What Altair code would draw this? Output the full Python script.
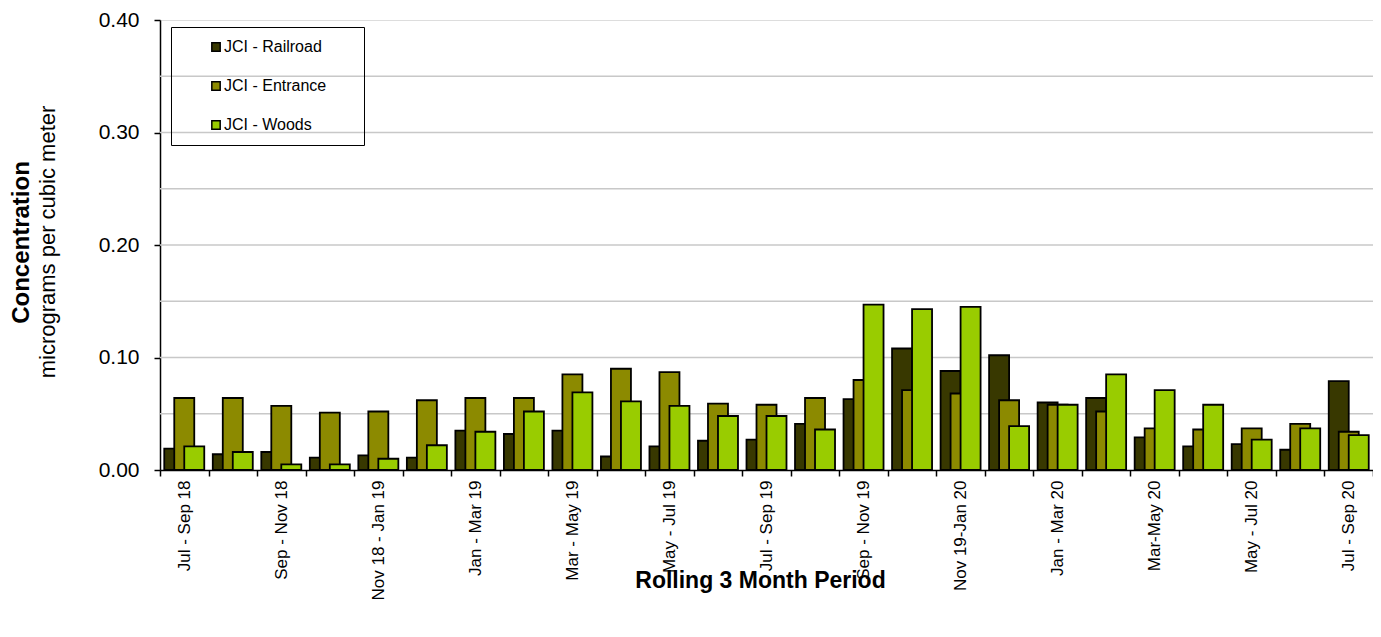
import altair as alt
import pandas as pd

periods = [
    "Jul - Sep 18", "Aug - Oct 18", "Sep - Nov 18", "Oct - Dec 18", "Nov 18 - Jan 19",
    "Dec 18 - Feb 19", "Jan - Mar 19", "Feb - Apr 19", "Mar - May 19", "Apr - Jun 19",
    "May - Jul 19", "Jun - Aug 19", "Jul - Sep 19", "Aug - Oct 19", "Sep - Nov 19",
    "Oct - Dec 19", "Nov 19-Jan 20", "Dec 19-Feb 20", "Jan - Mar 20", "Feb - Apr 20",
    "Mar-May 20", "Apr - Jun 20", "May - Jul 20", "Jun - Aug 20", "Jul - Sep 20",
]
shown_labels = periods[::2]

railroad = [0.019, 0.014, 0.016, 0.011, 0.013, 0.011, 0.035, 0.032, 0.035, 0.012,
            0.021, 0.026, 0.027, 0.041, 0.063, 0.108, 0.088, 0.102, 0.060, 0.064,
            0.029, 0.021, 0.023, 0.018, 0.079]
entrance = [0.064, 0.064, 0.057, 0.051, 0.052, 0.062, 0.064, 0.064, 0.085, 0.090,
            0.087, 0.059, 0.058, 0.064, 0.080, 0.071, 0.068, 0.062, 0.058, 0.052,
            0.037, 0.036, 0.037, 0.041, 0.034]
woods = [0.021, 0.016, 0.005, 0.005, 0.010, 0.022, 0.034, 0.052, 0.069, 0.061,
         0.057, 0.048, 0.048, 0.036, 0.147, 0.143, 0.145, 0.039, 0.058, 0.085,
         0.071, 0.058, 0.027, 0.037, 0.031]

series_names = ["JCI - Railroad", "JCI - Entrance", "JCI - Woods"]
series_colors = ["#383800", "#8c8a00", "#99cc00"]
grid_values = [0.05, 0.10, 0.15, 0.20, 0.25, 0.30, 0.35]
y_ticks = [0.0, 0.1, 0.2, 0.3, 0.4]

rows = []
for name, vals in zip(series_names, [railroad, entrance, woods]):
    for p, v in zip(periods, vals):
        rows.append({"period": p, "series": name, "value": v})
df = pd.DataFrame(rows)

FONT = "Liberation Sans"
shown_js = "[" + ",".join("'" + s + "'" for s in shown_labels) + "]"

x_enc = alt.X(
    "period:N",
    sort=periods,
    scale=alt.Scale(paddingInner=0, paddingOuter=0),
    axis=alt.Axis(
        title="Rolling 3 Month Period",
        titleFont=FONT, titleFontSize=23, titleFontWeight="bold", titleColor="black",
        titleX=600, titleAlign="center", titleY=110, titleBaseline="middle",
        labelAngle=-90, labelFont=FONT, labelFontSize=17, labelColor="black",
        labelExpr="indexof(" + shown_js + ", datum.value) >= 0 ? datum.value : ''",
        labelPadding=4, labelLimit=300,
        tickBand="extent", tickSize=6, tickColor="black", tickWidth=1.5,
        domainColor="black", domainWidth=1.5, grid=False,
    ),
)
y_enc = alt.Y(
    "value:Q",
    scale=alt.Scale(domain=[0, 0.4], nice=False),
    axis=alt.Axis(
        values=y_ticks, format=".2f",
        title="Concentration", titleFont=FONT, titleFontSize=24, titleFontWeight="bold",
        titleColor="black", titleAngle=270, titleX=-139, titleY=222,
        titleAlign="center", titleBaseline="middle",
        labelFont=FONT, labelFontSize=21, labelColor="black", labelPadding=15,
        tickSize=6, tickColor="black", tickWidth=1.5,
        domainColor="black", domainWidth=1.5, grid=False,
    ),
)
color_enc = alt.Color(
    "series:N",
    scale=alt.Scale(domain=series_names, range=series_colors),
    legend=alt.Legend(
        title="MM", titleOrient="right", titleOpacity=0, titleFontSize=12,
        titlePadding=6,
        orient="none", legendX=11, legendY=7,
        symbolType="square", symbolSize=70, symbolStrokeColor="black", symbolStrokeWidth=1.5,
        labelFont=FONT, labelFontSize=16, labelColor="black", labelLimit=400,
        padding=12, symbolOffset=25, labelOffset=0, rowPadding=23,
        strokeColor="black",
    ),
)

grid = alt.Chart(pd.DataFrame({"g": grid_values})).mark_rule(
    color="#c8c8c8", strokeWidth=1.5
).encode(y=alt.Y("g:Q", scale=alt.Scale(domain=[0, 0.4], nice=False)))

layers = [grid]
for name, off in zip(series_names, [-10, 0, 10]):
    layers.append(
        alt.Chart(df).transform_filter(alt.datum.series == name)
        .mark_bar(size=20, xOffset=off, stroke="black", strokeWidth=1.8)
        .encode(x=x_enc, y=y_enc, color=color_enc)
    )

subtitle = alt.Chart(pd.DataFrame({"t": ["micrograms per cubic meter"]})).mark_text(
    angle=270, font=FONT, fontSize=22, color="black", align="center", baseline="middle"
).encode(x=alt.value(-112), y=alt.value(222), text="t:N")
layers.append(subtitle)

chart = alt.layer(*layers).properties(
    width=1213, height=450,
    autosize=alt.AutoSizeParams(type="none"),
    padding={"left": 152, "top": 12, "right": 0, "bottom": 159},
).configure_view(stroke="#888888", strokeWidth=2).configure(background="white")

chart.save("out.html", embed_options={"renderer": "svg", "actions": False})
